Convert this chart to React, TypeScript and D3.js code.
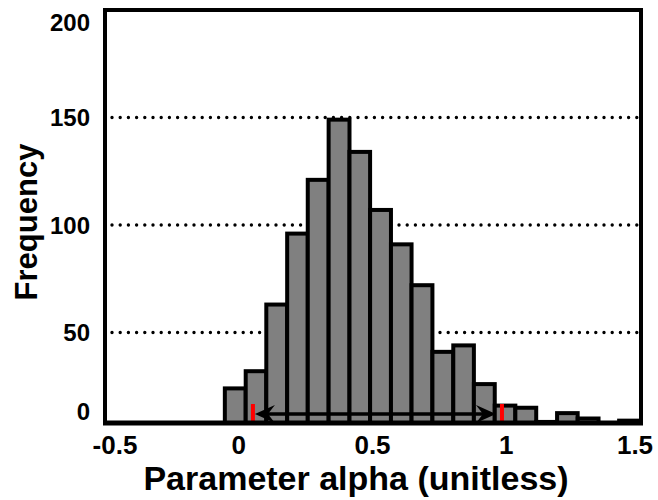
import React from "react";
import * as d3 from "d3";

// histogram bin edges (alpha) and counts per bin
const binEdges = [
  -0.052, 0.026, 0.103, 0.181, 0.258, 0.336, 0.414, 0.491, 0.569, 0.646, 0.724,
  0.802, 0.879, 0.957, 1.034, 1.112, 1.19, 1.267, 1.345, 1.422, 1.5,
];
const counts = [24, 32, 63, 96, 121, 149, 134, 107, 91, 72, 41, 44, 26, 16, 15, 8.4, 12.5, 10, 7.6, 9];

const xTicks = [-0.5, 0, 0.5, 1, 1.5];
const yTicks = [0, 50, 100, 150, 200];
const gridValues = [50, 100, 150];

// interval marked by the red ticks and the double arrow
const ciLow = 0.053;
const ciHigh = 0.984;

const width = 658;
const height = 500;
const left = 105;
const right = 641;
const top = 10;
const bottom = 423;
const font = "'Liberation Sans', Arial, sans-serif";

export default function App() {
  const x = d3.scaleLinear().domain([-0.5, 1.5]).range([left, 640]);
  const y = d3.scaleLinear().domain([0, 200]).range([440, 10]);

  const bins = counts.map((c, i) => ({ x0: binEdges[i], x1: binEdges[i + 1], c }));

  const arrowY = bottom - 9;
  const aL = x(ciLow) + 2;
  const aR = x(ciHigh) - 6;
  const head = (tip: number, dir: number) =>
    `M${tip},${arrowY} L${tip + dir * 20},${arrowY - 9} L${tip + dir * 13},${arrowY} L${tip + dir * 20},${arrowY + 9} Z`;

  return (
    <svg
      width={width}
      height={height}
      style={{ position: "absolute", left: 0, top: 0, background: "#fff" }}
      fontFamily={font}
      fontWeight="bold"
    >
      {/* dotted grid */}
      {gridValues.map((g) => (
        <line
          key={g}
          x1={112}
          x2={638}
          y1={y(g)}
          y2={y(g)}
          stroke="#000"
          strokeWidth={3.4}
          strokeDasharray="0,8.2"
          strokeLinecap="round"
        />
      ))}

      {/* bars */}
      {bins.map((b, i) => (
        <rect
          key={i}
          x={x(b.x0)}
          y={y(b.c)}
          width={x(b.x1) - x(b.x0)}
          height={bottom - y(b.c)}
          fill="#808080"
          stroke="#000"
          strokeWidth={4}
        />
      ))}

      {/* interval arrow */}
      <line x1={aL + 10} x2={aR - 10} y1={arrowY} y2={arrowY} stroke="#000" strokeWidth={3.5} />
      <path d={head(aL, 1)} fill="#000" />
      <path d={head(aR, -1)} fill="#000" />
      {[ciLow, ciHigh].map((v) => (
        <rect key={v} x={x(v) - 2} y={bottom - 19} width={4} height={19} fill="#ff0000" />
      ))}

      {/* frame */}
      <path
        d={`M${left},${bottom} L${left},${top} L${right},${top} L${right},${bottom}`}
        fill="none"
        stroke="#000"
        strokeWidth={4}
      />
      <line x1={left - 2} x2={right + 2} y1={bottom} y2={bottom} stroke="#000" strokeWidth={5} />

      {/* y tick labels */}
      {yTicks.map((t) => (
        <text
          key={t}
          x={90}
          y={Math.min(Math.max(y(t), 22), 411)}
          textAnchor="end"
          dominantBaseline="central"
          fontSize={24}
        >
          {t}
        </text>
      ))}

      {/* x tick labels */}
      {xTicks.map((t) => (
        <text
          key={t}
          x={Math.min(Math.max(x(t), 115), 635)}
          y={445}
          textAnchor="middle"
          dominantBaseline="central"
          fontSize={26}
        >
          {t}
        </text>
      ))}

      <text x={356} y={490} textAnchor="middle" fontSize={34}>
        Parameter alpha (unitless)
      </text>
      <text transform="translate(37,222) rotate(-90)" textAnchor="middle" fontSize={31}>
        Frequency
      </text>
    </svg>
  );
}
